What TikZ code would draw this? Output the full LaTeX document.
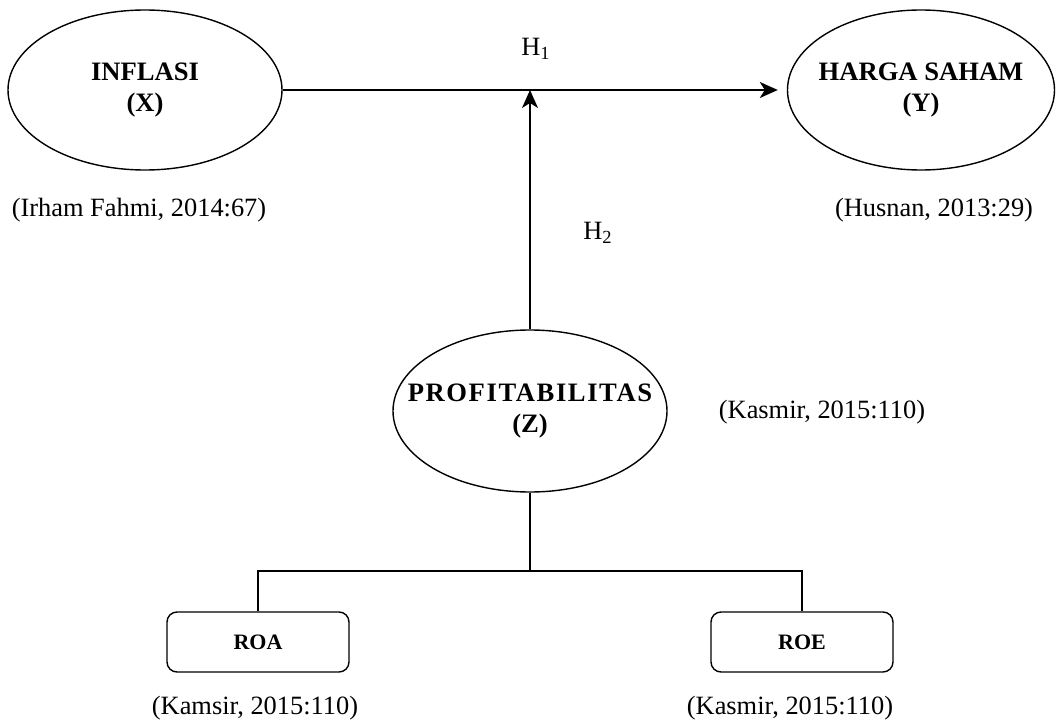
\documentclass[tikz,border=0pt]{standalone}
\usepackage{fontspec}
\setmainfont{Liberation Serif}
\usetikzlibrary{arrows.meta,shapes.geometric}

\begin{document}
\begin{tikzpicture}[x=0.5pt, y=-0.5pt, line width=0.7pt,
    every node/.style={font=\fontsize{13.2}{15.5}\selectfont}]
    \tikzset{var node/.style={ellipse, draw, align=center, inner ysep=0pt,
        inner xsep=-8pt, minimum width=137pt, minimum height=80pt,
        font=\fontsize{13.3}{15.5}\selectfont\bfseries}}
    \tikzset{ind node/.style={draw, rounded corners=5pt, minimum width=91pt,
        minimum height=30pt, font=\fontsize{11}{13}\selectfont\bfseries}}
    \tikzset{arr/.style={-{Stealth[length=9pt, width=8pt, inset=2.5pt]}}}
    \useasboundingbox (0,0) rectangle (1056,722);
    % Nodes
    \node (inflasi) [var node] at (145,90) {INFLASI\\(X)};
    \node (harga) [var node, minimum width=133.5pt] at (921,90) {HARGA SAHAM\\(Y)};
    \node (profit) [var node, inner xsep=-15pt, minimum height=81pt] at (530,411)
        {\addfontfeature{LetterSpace=6}PROFITABILITAS\\(Z)};

    \node (roa) [ind node] at (258,642) {ROA};
    \node (roe) [ind node] at (802,642) {ROE};

    \node (refX) at (139,210) {(Irham Fahmi, 2014:67)};
    \node (refY) at (934,210) {(Husnan, 2013:29)};
    \node (refZ) at (822,412) {(Kasmir, 2015:110)};
    \node (refA) at (255,708) {(Kamsir, 2015:110)};
    \node (refE) at (790,708) {(Kasmir, 2015:110)};

    \node (h1) at (536,49) {H\textsubscript{1}};
    \node (h2) at (598,233) {H\textsubscript{2}};

    \coordinate (join) at (profit.north |- inflasi.east);
    \coordinate (fork) at (530,571);

    % Arrows
    \draw [arr, shorten >=4.5pt] (inflasi) -- (harga);
    \draw [arr] (profit) -- (join);
    \draw (profit) -- (fork);
    \draw (roa) |- (fork) -| (roe);
\end{tikzpicture}
\end{document}
